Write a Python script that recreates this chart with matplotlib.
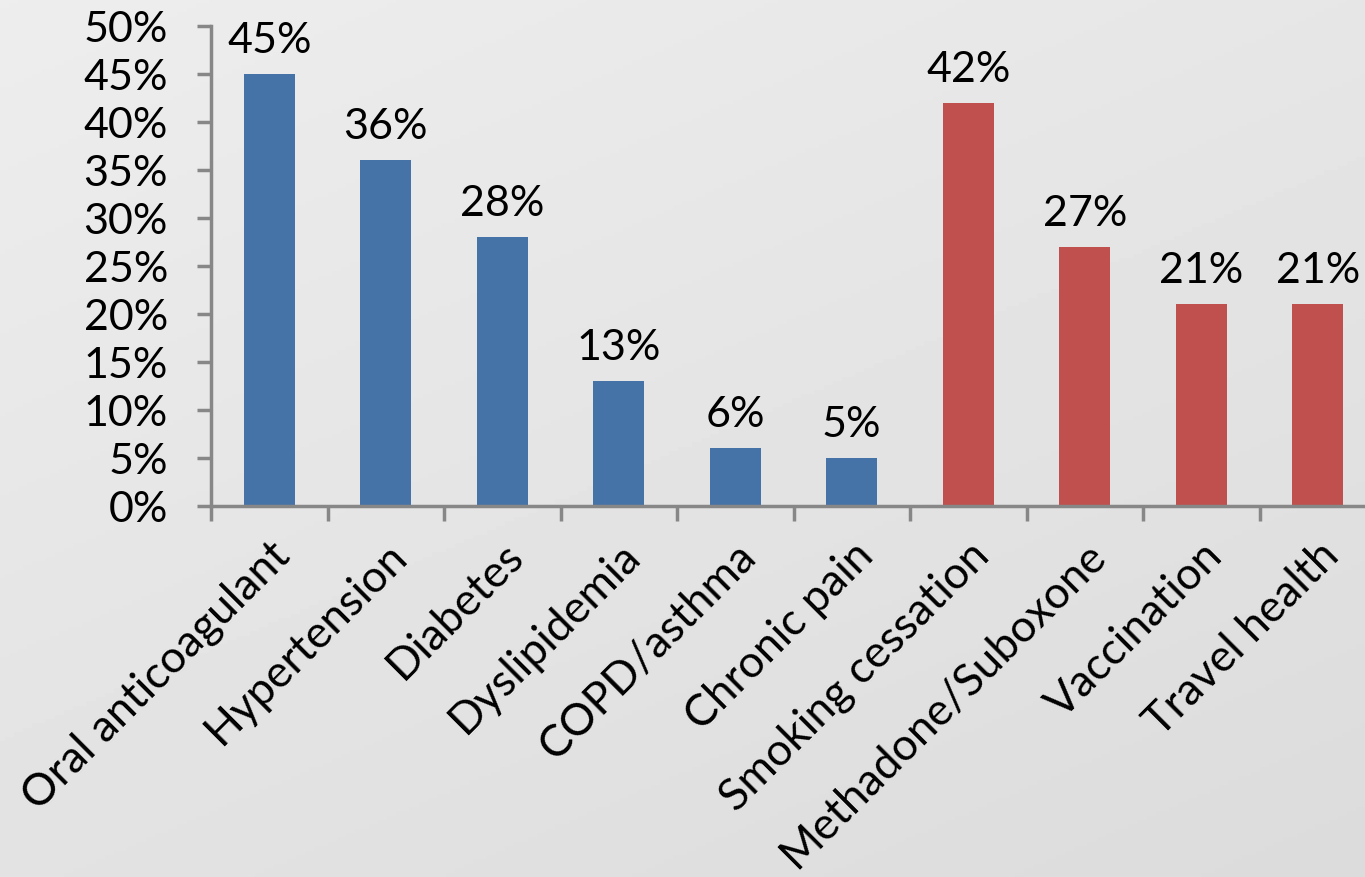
import numpy as np
import matplotlib
matplotlib.use("Agg")
import matplotlib.pyplot as plt
from matplotlib.ticker import FixedLocator

categories = ["Oral anticoagulant", "Hypertension", "Diabetes", "Dyslipidemia",
              "COPD/asthma", "Chronic pain", "Smoking cessation",
              "Methadone/Suboxone", "Vaccination", "Travel health"]
values = [45, 36, 28, 13, 6, 5, 42, 27, 21, 21]
groups = ["chronic"] * 6 + ["service"] * 4
y_ticks = [0, 5, 10, 15, 20, 25, 30, 35, 40, 45, 50]

group_colors = {"chronic": "#4572A7", "service": "#C0504D"}
plt.rcParams["font.family"] = ["Lato", "DejaVu Sans"]

W, H, DPI = 1365, 878, 100
fig = plt.figure(figsize=(W / DPI, H / DPI), dpi=DPI)

# soft grey backdrop, lighter at the top-left
bg = fig.add_axes([0, 0, 1, 1], zorder=-10)
yy, xx = np.mgrid[0:1:200j, 0:1:300j]
shade = 0.93 - 0.07 * (0.6 * yy + 0.4 * xx)
bg.imshow(shade, cmap="gray", vmin=0, vmax=1, aspect="auto",
          extent=[0, 1, 0, 1], origin="upper")
bg.axis("off")

left, right = 211 / W, 1.0
bottom, top = 1 - 507 / H, 1 - 27 / H
ax = fig.add_axes([left, bottom, right - left, top - bottom])
ax.patch.set_alpha(0)

x = np.arange(len(categories))
colors = [group_colors[g] for g in groups]
ax.bar(x, values, width=0.44, color=colors, zorder=2)

for xi, v in zip(x, values):
    ax.annotate(f"{v}%", (xi, v), xytext=(0, 11), textcoords="offset points",
                ha="center", va="bottom", fontsize=31, color="black",
                annotation_clip=False)

x_max = -0.5 + (W - 211) / 116.5
ax.set_xlim(-0.5, x_max)
ax.set_ylim(0, 50)

ax.set_yticks(y_ticks)
ax.set_yticklabels([f"{t}%" for t in y_ticks])
ax.tick_params(axis="y", direction="out", length=10, width=2.5,
               color="#878787", labelsize=31, pad=21)

ax.set_xticks(x)
ax.set_xticklabels(categories, rotation=45, ha="right",
                   rotation_mode="anchor", fontsize=32)
ax.tick_params(axis="x", which="major", length=0, pad=20)
ax.xaxis.set_minor_locator(FixedLocator(np.arange(-0.5, len(categories), 1.0)))
ax.tick_params(axis="x", which="minor", direction="out", length=11,
               width=2.5, color="#878787")

for side in ("top", "right"):
    ax.spines[side].set_visible(False)
for side in ("left", "bottom"):
    ax.spines[side].set_color("#878787")
    ax.spines[side].set_linewidth(2.5)

fig.savefig("out.png", dpi=DPI)
